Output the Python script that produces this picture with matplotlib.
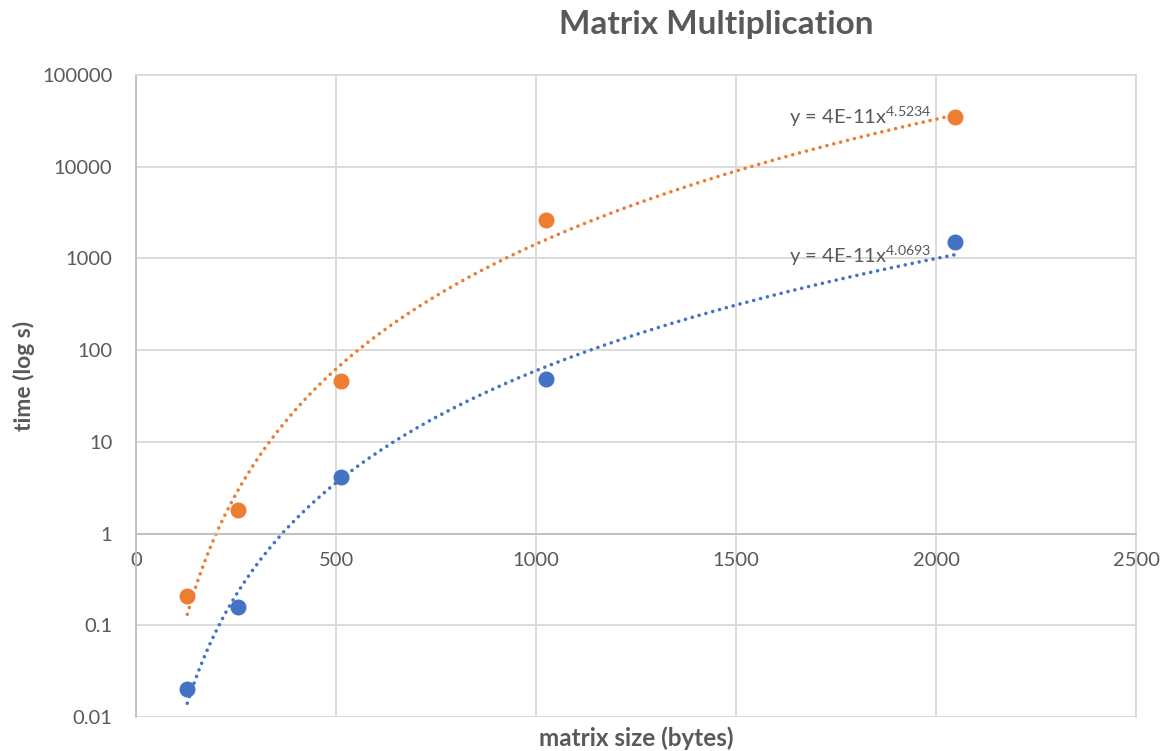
import numpy as np
import matplotlib
matplotlib.use("Agg")
import matplotlib.pyplot as plt
from matplotlib.ticker import FuncFormatter, FixedLocator, NullLocator

plt.rcParams['font.family'] = ['Lato', 'DejaVu Sans']
plt.rcParams['mathtext.default'] = 'regular'

sizes = [128, 256, 512, 1024, 2048]
time_orange = [0.21, 1.8, 46, 2650, 35000]
time_blue = [0.02, 0.16, 4.1, 48, 1500]
labels = ['y = 4E-11x$^{4.5234}$', 'y = 4E-11x$^{4.0693}$']

c_orange = '#ED7D31'
c_blue = '#4472C4'
txt = '#595959'
grid_c = '#d9d9d9'

fig = plt.figure(figsize=(11.63, 7.51), dpi=100)
ax = fig.add_axes([0.117, 0.0453, 0.86, 0.855])
ax.set_yscale('log')
ax.set_xlim(0, 2500)
ax.set_ylim(0.01, 100000)

xs = np.array(sizes, dtype=float)
xfit = np.linspace(xs.min(), xs.max(), 200)
for ys, col in [(time_orange, c_orange), (time_blue, c_blue)]:
    # power trendline, fitted in log-log space
    k, b = np.polyfit(np.log10(xs), np.log10(ys), 1)
    ax.plot(xfit, 10 ** b * xfit ** k, color=col, lw=2.6,
            linestyle=(0, (0.01, 1.95)), dash_capstyle='round', zorder=2)
    ax.plot(sizes, ys, 'o', color=col, ms=10.5, zorder=3)

ax.annotate(labels[0], (sizes[-1], time_orange[-1]), xytext=(-24, 0),
            textcoords='offset pixels', ha='right', va='center',
            fontsize=14.5, color=txt)
ax.annotate(labels[1], (sizes[-1], time_blue[-1]), xytext=(-24, -14),
            textcoords='offset pixels', ha='right', va='center',
            fontsize=14.5, color=txt)

ax.xaxis.set_major_locator(FixedLocator([0, 500, 1000, 1500, 2000, 2500]))
ax.yaxis.set_major_locator(FixedLocator([0.01, 0.1, 1, 10, 100, 1000, 10000, 100000]))
ax.yaxis.set_minor_locator(NullLocator())
ax.yaxis.set_major_formatter(FuncFormatter(lambda v, p: '%g' % v))
ax.grid(True, color=grid_c, lw=1.3)
ax.set_axisbelow(True)

for s in ['top', 'right']:
    ax.spines[s].set_color(grid_c)
    ax.spines[s].set_linewidth(1.3)
ax.spines['left'].set_color('#bfbfbf')
ax.spines['left'].set_linewidth(1.3)
ax.spines['bottom'].set_position(('data', 1))
ax.spines['bottom'].set_color('#bfbfbf')
ax.spines['bottom'].set_linewidth(1.3)

ax.tick_params(length=0, labelsize=14.5, colors=txt)
ax.tick_params(axis='x', pad=13)
ax.tick_params(axis='y', pad=17)

fig.text(0.616, 0.968, 'Matrix Multiplication', ha='center', va='center',
         fontsize=24, fontweight='bold', color=txt)
fig.text(0.0206, 0.5, 'time (log s)', rotation=90, ha='center', va='center',
         fontsize=16.5, fontweight='bold', color=txt)
fig.text(0.547, 0.017, 'matrix size (bytes)', ha='center', va='center',
         fontsize=17.5, fontweight='bold', color=txt)

fig.savefig('out.png', dpi=100)
